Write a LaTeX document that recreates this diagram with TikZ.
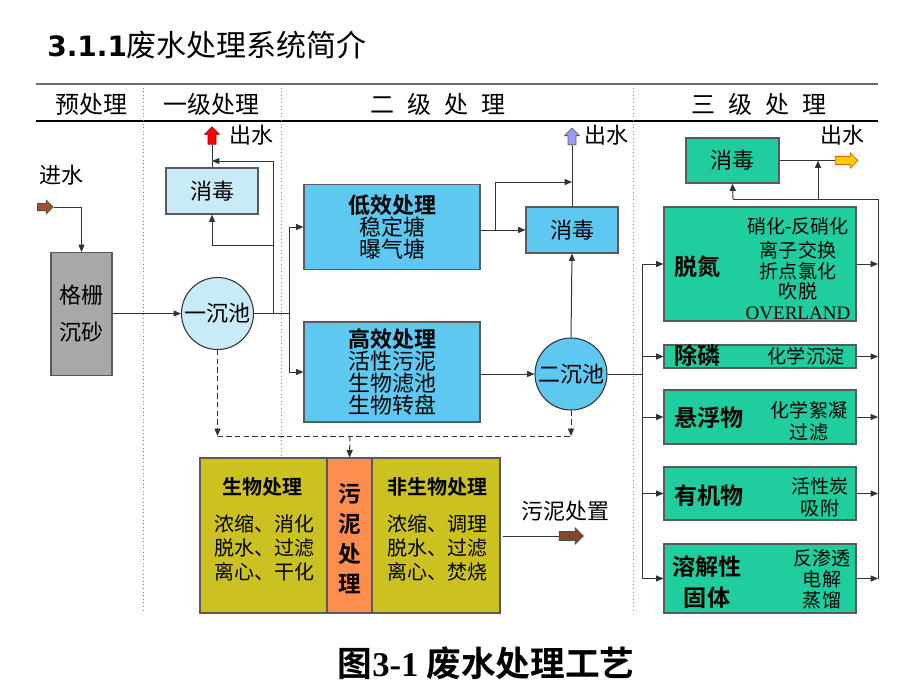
\documentclass[tikz,border=0pt]{standalone}
\usepackage{fontspec}
\setmainfont{Noto Sans CJK SC}[BoldFont={Noto Sans CJK SC Bold}]
\newfontfamily\latinserif{Liberation Serif}
\newfontfamily\titlelat{DejaVu Sans}
\usetikzlibrary{shapes.arrows,arrows.meta}
\definecolor{grayfill}{HTML}{A8A8A8}
\definecolor{graydraw}{HTML}{5A5A5A}
\definecolor{paleblue}{HTML}{C9EBF8}
\definecolor{skyblue}{HTML}{5EC8F0}
\definecolor{tealg}{HTML}{1FCD9E}
\definecolor{olive}{HTML}{CBC222}
\definecolor{orangeb}{HTML}{FF8E4E}
\definecolor{lineC}{HTML}{333333}
\definecolor{brownA}{HTML}{A0522D}
\definecolor{violetA}{HTML}{9A9AF5}
\definecolor{yellowA}{HTML}{FFCC00}
\tikzset{
  fbody/.style={font=\fontsize{16.5pt}{16.5pt}\selectfont},
  box/.style={draw=graydraw, line width=0.8pt, inner sep=0pt, align=center, fbody},
  circ/.style={circle, draw=lineC, line width=0.8pt, minimum size=54pt, inner sep=0pt, fbody},
  conn/.style={draw=lineC, line width=0.75pt},
  dconn/.style={draw=lineC, line width=0.75pt, dash pattern=on 4pt off 2.5pt},
  blockarrow/.style={single arrow, draw=#1, line width=0.6pt, inner xsep=0pt, inner ysep=2.7pt,
     single arrow head extend=2.6pt, single arrow head indent=0pt},
  hdr/.style={font=\fontsize{18pt}{18pt}\selectfont},
  rtext/.style={align=center, font=\fontsize{14.3pt}{15.4pt}\selectfont},
  rlabel/.style={anchor=west, align=center, font=\fontsize{17.3pt}{23pt}\selectfont\bfseries},
  stext/.style={align=center, font=\fontsize{15pt}{18pt}\selectfont},
  divider/.style={draw=gray, line width=0.7pt, dotted},
}
\begin{document}
\begin{tikzpicture}[x=0.75pt,y=-0.75pt, >={Triangle[length=5.5pt,width=4.5pt]}]
\useasboundingbox (0,0) rectangle (920,690);
\fill[white] (0,0) rectangle (920,690);

% title
\node[anchor=west, inner sep=0pt, font=\fontsize{22.5pt}{22.5pt}\selectfont] (title) at (47,45)
  {{\titlelat\bfseries\fontsize{21pt}{21pt}\selectfont 3.1.1}废水处理系统简介};

% header rules
\coordinate (hl) at (36,84);
\coordinate (hr) at (878,84);
\coordinate (bl) at (36,121);
\coordinate (br) at (878,121);
\draw[draw=gray!85!black, line width=1.5pt] (hl) -- (hr);
\draw[draw=black, line width=0.8pt] (bl) -- (br);
\coordinate (d1t) at (143,84); \coordinate (d1b) at (143,612);
\coordinate (d2t) at (281,84); \coordinate (d2b) at (281,458);
\coordinate (d3t) at (633,84); \coordinate (d3b) at (633,610);
\draw[divider] (d1t) -- (d1b);
\draw[divider] (d2t) -- (d2b);
\draw[divider] (d3t) -- (d3b);

\node[hdr] (h1) at (91,104) {预处理};
\node[hdr] (h2) at (211,104) {一级处理};
\node[hdr] (h3) at (438,104) {二\hspace{0.55em}级\hspace{0.55em}处\hspace{0.55em}理};
\node[hdr] (h4) at (759,104) {三\hspace{0.55em}级\hspace{0.55em}处\hspace{0.55em}理};

% pretreatment
\node[fbody] (inlbl) at (61,175) {进水};
\node[blockarrow=black!70, fill=brownA, minimum height=11.5pt, inner ysep=2.4pt, single arrow head extend=2.3pt] (inA) at (43.5,207) {};
\node[box, fill=grayfill, minimum width=45.75pt, minimum height=92.25pt,
      font=\fontsize{16.5pt}{27.75pt}\selectfont] (grate) at (81.5,314) {格栅\\沉砂};
\draw[conn,->] (inA.tip) -| (grate.north);

% primary
\node[circ, fill=paleblue] (c1) at (217.5,313.5) {一沉池};
\node[box, fill=paleblue, minimum width=69pt, minimum height=34.5pt] (dis1) at (212,191) {消毒};
\node[blockarrow=red!60!black, fill=red, rotate=90, minimum height=13pt] (outA) at (212,137.5) {};
\node[fbody, anchor=west] (outAl) at (225,135) {出水};
\draw[conn,->] (grate.east |- c1.west) -- (c1.west);
\coordinate (jA) at (273,313.5);
\coordinate (jAtop) at (212,161);
\coordinate (jAmid) at (273,245);
\coordinate (j1) at (289,313.5);
\draw[conn] (c1.east) -- (j1);
\draw[conn] (dis1.north) -- (outA.tail);
\draw[conn,->] (jA) |- (jAtop);
\draw[conn,->] (jAmid) -| (dis1.south);

% secondary
\node[box, fill=skyblue, minimum width=132pt, minimum height=63.75pt,
      font=\fontsize{16.5pt}{16.2pt}\selectfont] (low) at (392,227) {{\bfseries 低效处理}\\稳定塘\\曝气塘};
\node[box, fill=skyblue, minimum width=132pt, minimum height=75pt,
      font=\fontsize{16.5pt}{16.5pt}\selectfont] (high) at (392,372) {{\bfseries 高效处理}\\活性污泥\\生物滤池\\生物转盘};
\draw[conn,->] (j1) |- (low.west);
\draw[conn,->] (j1) |- (high.west);
\node[box, fill=skyblue, minimum width=69pt, minimum height=34.5pt] (dis2) at (572,230) {消毒};
\node[circ, fill=skyblue] (sec) at (571,374) {二沉池};
\node[blockarrow=black!60, fill=violetA, rotate=90, minimum height=12.5pt] (outB) at (572,138.5) {};
\node[fbody, anchor=west] (outBl) at (580,135) {出水};
\coordinate (j2) at (495,230);
\coordinate (j2top) at (572,182);
\draw[conn,->] (low.east |- dis2.west) -- (dis2.west);
\draw[conn,->] (j2) |- (j2top);
\draw[conn] (dis2.north) -- (outB.tail);
\draw[conn,->] (high.east |- sec.west) -- (sec.west);
\draw[conn,->] (sec.north) -- (dis2.south);

% sludge
\coordinate (dL) at (217.5,436);
\coordinate (dR) at (571,436);
\coordinate (dM) at (350,436);
\node[box, fill=olive, minimum width=95.25pt, minimum height=116.25pt] (sbio) at (263.5,535.5) {};
\node[box, fill=orangeb, minimum width=33.75pt, minimum height=116.25pt] (smid) at (349.5,535.5) {};
\node[box, fill=olive, minimum width=96pt, minimum height=116.25pt] (snon) at (436,535.5) {};
\node[stext, font=\fontsize{15pt}{18pt}\selectfont\bfseries] (sbioT) at (262,487) {生物处理};
\node[stext] (sbioB) at (264,548) {浓缩、消化\\脱水、过滤\\离心、干化};
\node[stext, font=\fontsize{17pt}{22.5pt}\selectfont\bfseries] (smidT) at (350,539) {污\\泥\\处\\理};
\node[stext, font=\fontsize{15pt}{18pt}\selectfont\bfseries] (snonT) at (437,487) {非生物处理};
\node[stext] (snonB) at (437,548) {浓缩、调理\\脱水、过滤\\离心、焚烧};
\draw[dconn,->] (c1.south) -- (dL);
\draw[dconn,->] (sec.south) -- (dR);
\draw[dconn] (dL) -- (dR);
\draw[dconn,->] (dM) -- (smid.north);
\node[fbody] (sdisp) at (565,511) {污泥处置};
\node[blockarrow=black!70, fill=brownA!85!black, minimum height=18pt, inner ysep=3pt, single arrow head extend=2.6pt] (sA) at (569,536) {};
\coordinate (sS) at (503,536);
\draw[conn] (sS) -- (sA.tail);

% tertiary
\node[box, fill=tealg, minimum width=69.75pt, minimum height=33.75pt] (dis3) at (732.5,160.5) {消毒};
\node[blockarrow=orange!80!black, fill=yellowA, minimum height=17pt, inner ysep=2.8pt] (outC) at (844.5,160.5) {};
\node[fbody] (outCl) at (842,135) {出水};
\draw[conn] (dis3.east) -- (outC.tail);

\node[box, fill=tealg, minimum width=144pt, minimum height=85.5pt] (nitro) at (760,264) {};
\node[box, fill=tealg, minimum width=144pt, minimum height=17.25pt] (phos) at (760,356.5) {};
\node[box, fill=tealg, minimum width=144pt, minimum height=40.5pt] (ss) at (760,417) {};
\node[box, fill=tealg, minimum width=144pt, minimum height=39.75pt] (org) at (760,493.5) {};
\node[box, fill=tealg, minimum width=144pt, minimum height=51.75pt] (tds) at (760,578.5) {};

\node[rlabel] (nitroL) at (670,267) {脱氮};
\node[rlabel] (phosL) at (670,356) {除磷};
\node[rlabel] (ssL) at (670,418) {悬浮物};
\node[rlabel] (orgL) at (670,496) {有机物};
\node[rlabel, anchor=center] (tdsL) at (707,582) {溶解性\\固体};

\node[rtext] (nitroT) at (798,268.5) {硝化-反硝化\\[3pt]离子交换\\折点氯化\\吹脱\\{\latinserif OVERLAND}};
\node[rtext] (phosT) at (806,356) {化学沉淀};
\node[rtext, font=\fontsize{14.3pt}{16.5pt}\selectfont] (ssT) at (809,421) {化学絮凝\\过滤};
\node[rtext, font=\fontsize{14.3pt}{16.5pt}\selectfont] (orgT) at (820,497) {活性炭\\吸附};
\node[rtext, font=\fontsize{14.3pt}{15.75pt}\selectfont] (tdsT) at (822,579) {反渗透\\电解\\蒸馏};

% buses
\coordinate (lb) at (642,0);
\coordinate (rbT) at (878,199);
\coordinate (jD) at (733,199);
\coordinate (jC) at (818,199);
\draw[conn] (sec.east) -- (sec.east -| lb);
\draw[conn] (lb |- nitro.west) -- (lb |- tds.west);
\foreach \b in {nitro,phos,ss,org,tds}{
  \draw[conn,->] (lb |- \b.west) -- (\b.west);
  \draw[conn,->] (\b.east) -- (\b.east -| rbT);
}
\draw[conn] (rbT) -- (rbT |- tds.east);
\draw[conn] (rbT) -- (jD);
\draw[conn,->] (jD) -- (dis3.south);
\draw[conn,->] (jC) -- (jC |- dis3.east);

% caption
\node[font=\fontsize{26pt}{26pt}\selectfont\bfseries] (cap) at (486,663) {图{\latinserif\bfseries 3-1} 废水处理工艺};
\end{tikzpicture}
\end{document}
